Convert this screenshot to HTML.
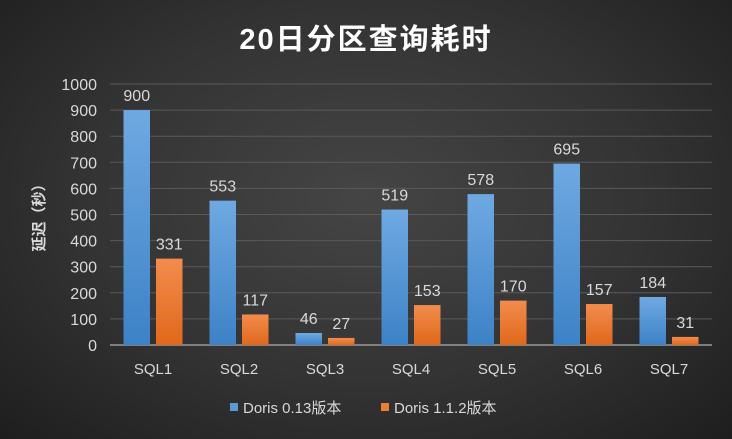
<!DOCTYPE html>
<html><head><meta charset="utf-8"><style>
html,body{margin:0;padding:0}
body{width:732px;height:439px;overflow:hidden;background:radial-gradient(ellipse at 50% 45%,#454545 0%,#333 55%,#1e1e1e 100%);font-family:"Liberation Sans","Noto Sans CJK SC",sans-serif}
svg{position:absolute;left:0;top:0}
</style></head><body>
<svg width="732" height="439">
<defs>
<linearGradient id="gb" x1="0" y1="0" x2="0" y2="1"><stop offset="0" stop-color="#6fa9e2"/><stop offset="1" stop-color="#3d82c6"/></linearGradient>
<linearGradient id="go" x1="0" y1="0" x2="0" y2="1"><stop offset="0" stop-color="#f28c4e"/><stop offset="1" stop-color="#e0681a"/></linearGradient>
</defs>
<text x="366" y="49" text-anchor="middle" fill="#fff" font-size="29" font-weight="bold" letter-spacing="2">20日分区查询耗时</text>
<text transform="translate(44,214) rotate(-90)" text-anchor="middle" fill="#d9d9d9" font-size="15" font-weight="bold">延迟（秒）</text>
<g id="grid"></g><g id="bars"></g>
<g>
<rect x="230" y="403" width="8" height="8" fill="#5b9bd5"/>
<text x="243" y="413" fill="#d9d9d9" font-size="15">Doris 0.13版本</text>
<rect x="381" y="403" width="8" height="8" fill="#ed7d31"/>
<text x="394" y="413" fill="#d9d9d9" font-size="15">Doris 1.1.2版本</text>
</g>
</svg>
<script>
const categories=["SQL1","SQL2","SQL3","SQL4","SQL5","SQL6","SQL7"];
const seriesA=[900,553,46,519,578,695,184];
const seriesB=[331,117,27,153,170,157,31];
const yTicks=[0,100,200,300,400,500,600,700,800,900,1000];
const NS="http://www.w3.org/2000/svg";
const x0=110,x1=712,y0=345,y1=84,ymax=1000;
const bw=(x1-x0)/categories.length;
function y(v){return y0-(v/ymax)*(y0-y1);}
function mk(t,a,p){const e=document.createElementNS(NS,t);for(const k in a)e.setAttribute(k,a[k]);p.appendChild(e);return e;}
const grid=document.getElementById('grid'),bars=document.getElementById('bars');
yTicks.forEach(v=>{
 if(v>0){const l=mk('line',{x1:x0,x2:x1,y1:y(v),y2:y(v),stroke:'#5a5a5a','stroke-width':1},grid);
 
 }
 const t=mk('text',{x:97,y:y(v)+6,'text-anchor':'end',fill:'#d9d9d9','font-size':16},grid);t.textContent=v;
 
 
});
const ax=mk('line',{x1:x0,x2:x1,y1:y0,y2:y0,stroke:'#9a9a9a','stroke-width':1.5},grid);


categories.forEach((c,i)=>{
 const cx=x0+i*bw;
 const xa=cx+13.5,xb=cx+46,w=26.5;
 [[seriesA[i],xa,'url(#gb)','doris-013'],[seriesB[i],xb,'url(#go)','doris-112']].forEach(([v,bx,f,n])=>{
  const r=mk('rect',{x:bx,y:y(v),width:w,height:y0-y(v),fill:f},bars);
  
  
  const t=mk('text',{x:bx+w/2,y:y(v)-9,'text-anchor':'middle',fill:'#d9d9d9','font-size':16},bars);t.textContent=v;
  
  
 });
 const t=mk('text',{x:cx+bw/2,y:374,'text-anchor':'middle',fill:'#d9d9d9','font-size':15},bars);t.textContent=c;
 
 
});
</script>
</body></html>
